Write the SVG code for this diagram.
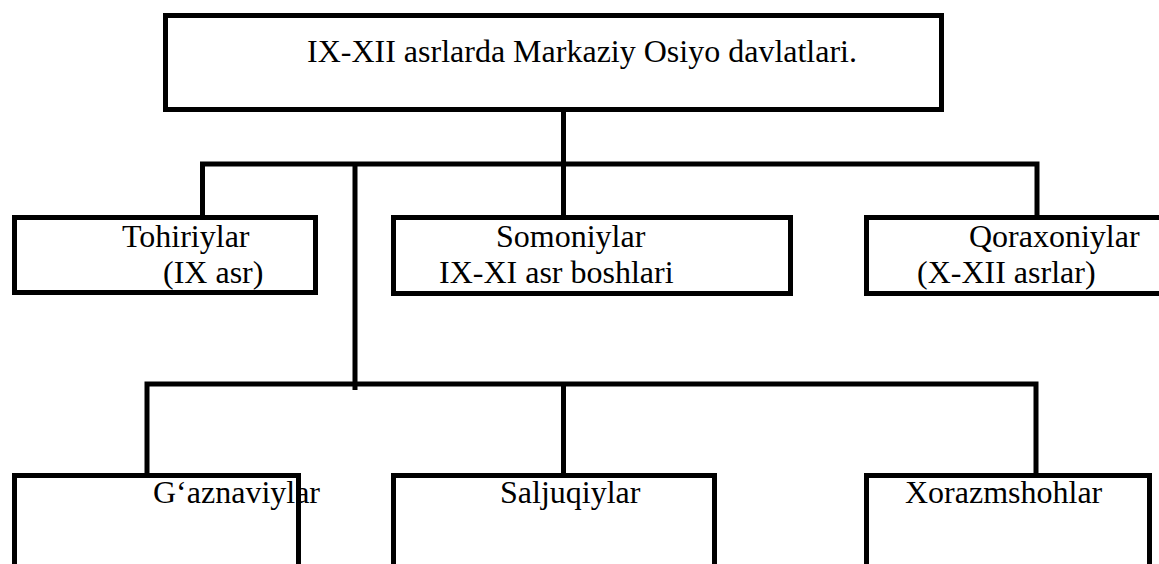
<svg xmlns="http://www.w3.org/2000/svg" width="1159" height="564" viewBox="0 0 1159 564">
<style>
.box{fill:#fff;stroke:#000;stroke-width:5}
.ln{fill:none;stroke:#000;stroke-width:5;stroke-linecap:butt}
.t{font-family:"Liberation Serif","Times New Roman",serif;font-size:32px;fill:#000}
</style>
<rect width="1159" height="564" fill="#fff"/>
<g id="connectors">
<path class="ln" d="M563.5 109.5V164"/>
<path class="ln" d="M202.5 218V164H1037V218"/>
<path class="ln" d="M563.5 164V218"/>
<path class="ln" d="M355 164V390"/>
<path class="ln" d="M147 476V384H1036V476"/>
<path class="ln" d="M563.5 384V476"/>
</g>
<g id="title">
<rect class="box" x="165.5" y="15.5" width="776" height="94"/>
<text class="t" x="307" y="62">IX-XII asrlarda Markaziy Osiyo davlatlari.</text>
</g>
<g id="tohiriylar">
<rect class="box" x="14.5" y="217.5" width="301" height="75"/>
<text class="t" x="122" y="247">Tohiriylar</text>
<text class="t" x="163" y="283">(IX asr)</text>
</g>
<g id="somoniylar">
<rect class="box" x="393.5" y="217.5" width="397" height="76"/>
<text class="t" x="496" y="247">Somoniylar</text>
<text class="t" x="439" y="283">IX-XI asr boshlari</text>
</g>
<g id="qoraxoniylar">
<rect class="box" x="866.5" y="217.5" width="310" height="76"/>
<text class="t" x="969" y="247">Qoraxoniylar</text>
<text class="t" x="917" y="283">(X-XII asrlar)</text>
</g>
<g id="gaznaviylar">
<rect class="box" x="14.5" y="475.5" width="284" height="120"/>
<text class="t" x="153" y="503">G‘aznaviylar</text>
</g>
<g id="saljuqiylar">
<rect class="box" x="393.5" y="475.5" width="321" height="120"/>
<text class="t" x="500" y="503">Saljuqiylar</text>
</g>
<g id="xorazmshohlar">
<rect class="box" x="866.5" y="475.5" width="283" height="120"/>
<text class="t" x="905" y="503">Xorazmshohlar</text>
</g>
</svg>
